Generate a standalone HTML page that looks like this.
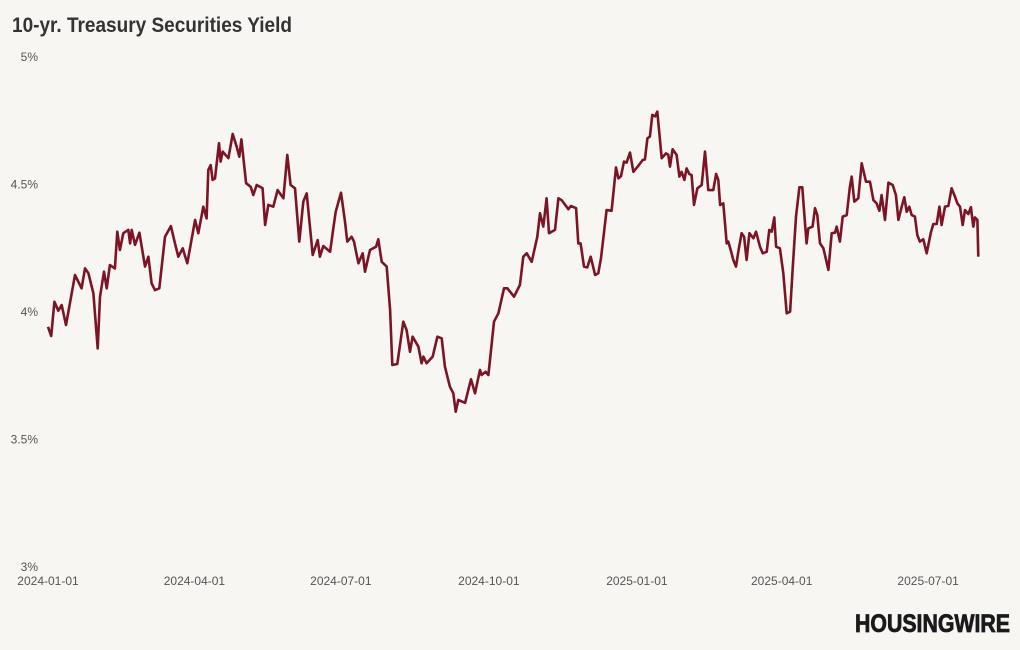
<!DOCTYPE html>
<html><head><meta charset="utf-8">
<style>
html,body{margin:0;padding:0;background:#f7f6f3;}
svg{display:block;font-family:"Liberation Sans Narrow","Liberation Sans",sans-serif;}
</style></head>
<body>
<svg id="chart" width="1020" height="650" viewBox="0 0 1020 650">
<rect width="1020" height="650" fill="#f7f6f3"/>
<text x="12" y="32" font-size="21" font-weight="bold" fill="#333" textLength="280" lengthAdjust="spacingAndGlyphs">10-yr. Treasury Securities Yield</text>
<g id="yaxis"></g>
<g id="xaxis"></g>
<path id="line" fill="none" stroke="#7b1525" stroke-width="2.6" stroke-linejoin="round"/>
<text x="855" y="632" font-size="25" font-weight="bold" fill="#1a1a1a" textLength="155" lengthAdjust="spacingAndGlyphs" stroke="#1a1a1a" stroke-width="0.8">HOUSINGWIRE</text>
</svg>
<script>
// days since 2024-01-01
const days = [0,2,4,6.4,8.5,11.2,16.8,20.9,23,25.1,28.2,30.9,32.3,34.8,36.5,38.5,41.6,43.1,44.7,46.8,49.9,51,52,54.1,56.8,60.3,62.4,64.4,66.5,69.2,72.7,76.4,78.9,81,83.7,86.6,91.4,93.4,96.5,98.6,99.6,101.1,102.3,103.8,106.3,107.3,108.6,112.1,114.8,117.3,118.9,120.2,123.1,126,127.6,129.7,133.4,134.9,136.9,140,142.7,146.3,148.7,150.8,153.5,156.2,158.7,160.8,164.5,167.6,169,171.1,175.3,177.3,178.8,182.1,184.6,186,188.7,190.2,192.9,195.6,197,200.1,203.9,205.3,207.4,210.5,212.6,214,217.1,220.8,222.9,225,226.6,230.2,232.2,233.3,235.3,239.1,242,244.7,246.7,249.8,251.9,253.4,255,259.2,261.2,262.9,265.4,268.5,269.5,272,273.7,277.2,279.9,283.4,285.5,289.6,293.3,295.4,297.5,300.6,304.1,305.8,307.8,309.9,311.4,315.1,317.2,319.2,323.4,325,328.2,329.6,331,333.1,335.2,337.3,340,342,343.7,347.2,350.3,353,354.5,356.1,358,359.6,361.7,363.8,366.5,369.6,371,372.5,374.1,375.6,377.3,378.7,381.4,384.1,385.5,386.6,388.2,390.7,392.4,393.8,395.5,396.9,398.6,400,401.5,403.6,406.3,408.3,410.4,413.5,415.2,416.6,417.7,419.7,421.8,422.8,424.3,425.9,427.6,429,431.1,432.6,434.2,435.9,438.4,440,442.5,444.2,446.7,448.3,449.8,451.4,452.5,454.9,457,459.1,461.2,462.8,464.9,467,468.8,470.5,471.5,472.5,475.2,476.7,478.1,479.8,481.9,485,487.1,489.1,490.2,492.2,493.9,496.4,498.4,499.5,501.1,503.6,505.7,508.4,510.9,513,515,516.7,518.1,520.2,522.3,525,527,528.5,530.6,532.2,533.7,535.3,536.8,538.8,540.3,541.9,544,546.1,548.6,550.2,552.3,554,555.4,557.5,559.6,561.6,563.7,565.2,566.8,568.5,569.9,572,573.6,575.1,576.1,577.6,578.2];
const yields = [3.942,3.906,4.040,4.005,4.027,3.949,4.145,4.093,4.171,4.152,4.073,3.857,4.060,4.158,4.093,4.184,4.171,4.315,4.243,4.309,4.322,4.269,4.322,4.263,4.311,4.178,4.217,4.112,4.086,4.093,4.295,4.337,4.269,4.217,4.250,4.191,4.361,4.309,4.413,4.367,4.557,4.576,4.518,4.524,4.662,4.590,4.629,4.603,4.698,4.648,4.609,4.677,4.505,4.491,4.459,4.498,4.485,4.341,4.420,4.413,4.478,4.446,4.616,4.498,4.485,4.276,4.433,4.465,4.224,4.282,4.217,4.259,4.236,4.328,4.393,4.468,4.354,4.276,4.295,4.276,4.191,4.230,4.158,4.243,4.256,4.285,4.197,4.178,4.008,3.792,3.796,3.962,3.929,3.844,3.903,3.864,3.799,3.825,3.799,3.825,3.903,3.897,3.786,3.707,3.681,3.609,3.655,3.644,3.694,3.736,3.681,3.773,3.753,3.766,3.753,3.962,3.995,4.093,4.093,4.060,4.106,4.217,4.230,4.197,4.295,4.387,4.335,4.446,4.309,4.322,4.446,4.439,4.403,4.416,4.407,4.269,4.269,4.178,4.175,4.217,4.145,4.152,4.211,4.400,4.397,4.567,4.524,4.533,4.590,4.586,4.625,4.550,4.570,4.596,4.598,4.681,4.688,4.773,4.767,4.786,4.603,4.622,4.616,4.570,4.638,4.616,4.531,4.550,4.518,4.563,4.541,4.537,4.420,4.485,4.498,4.629,4.478,4.478,4.541,4.518,4.420,4.426,4.269,4.276,4.243,4.204,4.178,4.236,4.309,4.295,4.204,4.309,4.289,4.315,4.256,4.230,4.236,4.322,4.315,4.371,4.256,4.250,4.152,3.995,4.001,4.165,4.374,4.489,4.489,4.348,4.269,4.328,4.335,4.407,4.380,4.269,4.250,4.165,4.309,4.311,4.335,4.276,4.374,4.380,4.491,4.531,4.433,4.446,4.583,4.511,4.511,4.439,4.426,4.397,4.459,4.361,4.507,4.498,4.459,4.361,4.413,4.450,4.393,4.413,4.380,4.374,4.302,4.276,4.285,4.230,4.309,4.345,4.345,4.413,4.341,4.413,4.416,4.485,4.452,4.426,4.413,4.341,4.400,4.384,4.411,4.335,4.371,4.361,4.217];
const yTicks = [3,3.5,4,4.5,5];
const yTickLabels = ["3%","3.5%","4%","4.5%","5%"];
const xTickDays = [0,91,182,274,366,456,547];
const xTickLabels = ["2024-01-01","2024-04-01","2024-07-01","2024-10-01","2025-01-01","2025-04-01","2025-07-01"];

const NS="http://www.w3.org/2000/svg";
const xS = d => 48 + d*1.609;
const yS = v => 567 - (v-3)*255;
const yaxis=document.getElementById('yaxis'), xaxis=document.getElementById('xaxis');
yTicks.forEach((v,i)=>{
  const t=document.createElementNS(NS,'text');
  
  
  t.setAttribute('x',38);t.setAttribute('y',yS(v)+4);
  t.setAttribute('text-anchor','end');t.setAttribute('font-size','12');t.setAttribute('fill','#555');
  t.textContent=yTickLabels[i];yaxis.appendChild(t);
});
xTickDays.forEach((d,i)=>{
  const t=document.createElementNS(NS,'text');
  
  
  t.setAttribute('x',xS(d));t.setAttribute('y',585);
  t.setAttribute('text-anchor','middle');t.setAttribute('font-size','12');t.setAttribute('fill','#555');
  t.textContent=xTickLabels[i];xaxis.appendChild(t);
});
document.getElementById('line').setAttribute('d',
  days.map((d,i)=>(i?'L':'M')+xS(d).toFixed(1)+','+yS(yields[i]).toFixed(1)).join(''));
</script>
</body></html>
